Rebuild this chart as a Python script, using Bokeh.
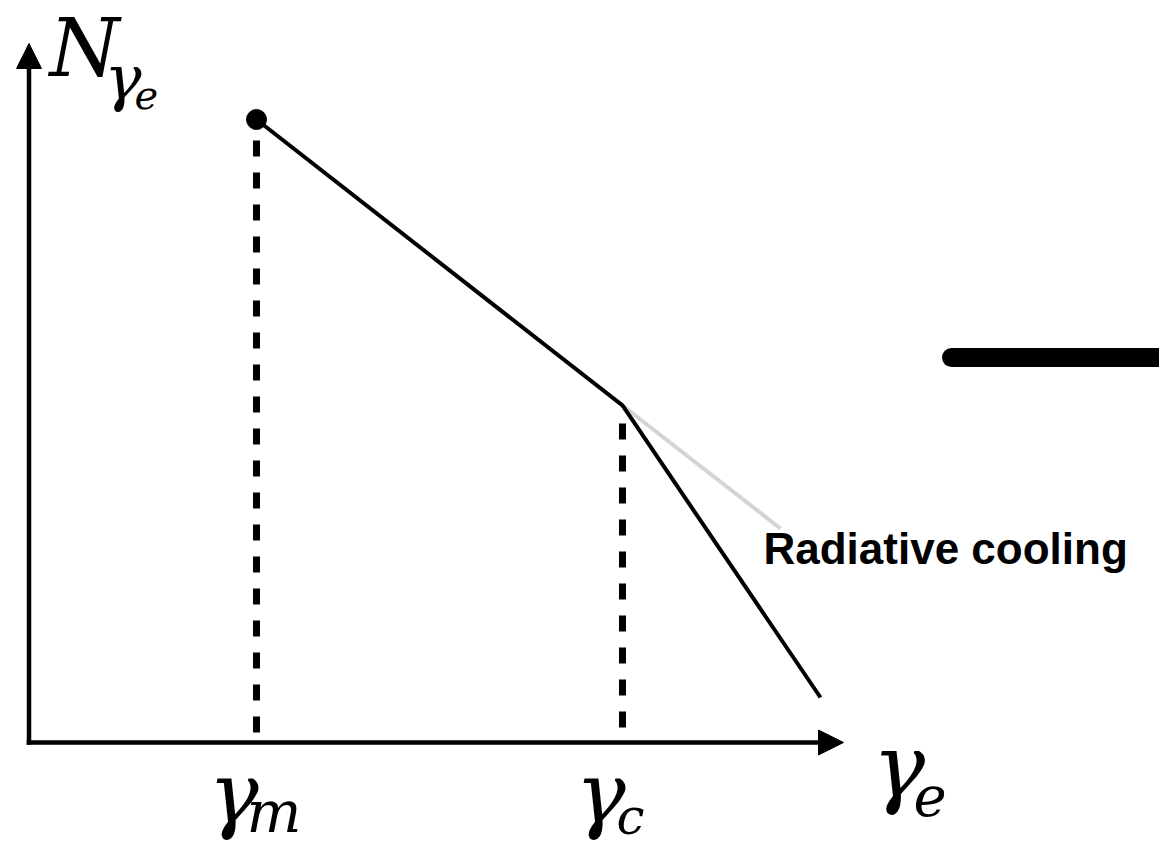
from bokeh.plotting import figure
from bokeh.models import Range1d, Arrow, NormalHead
from bokeh.core.properties import value
from bokeh.embed import file_html
from bokeh.resources import INLINE

# Schematic electron spectrum, drawn in canvas units (x to the right, y downward)
# Break points of the broken power law: injection peak at gamma_m, cooling break at gamma_c
spec_gamma = [256, 622, 820]
spec_n = [119, 405, 697]

# Uncooled continuation of the first power-law segment beyond gamma_c
ext_gamma = [622, 780]
ext_n = [405, 528]

# Marker on the low-energy end of the spectrum
peak_gamma = [256]
peak_n = [119]

# Dashed drop lines from the breaks to the gamma axis
drop_gamma = [256, 622]
drop_top = [140, 423]
drop_bottom = [732, 727]

# Axes: origin and arrow tips
origin = (28.5, 742)
x_tip = 843
y_tip = 43

# Brush stroke to the right of the diagram
stroke_x = [951, 1175]
stroke_y = [357, 357]

SERIF = value("DejaVu Serif")
MID = 0.35  # vertical centre of the em box above the baseline, in font sizes

p = figure(width=1159, height=846, output_backend="svg", toolbar_location=None,
           x_range=Range1d(0, 1159), y_range=Range1d(846, 0),
           min_border=0, outline_line_color=None, background_fill_color="white")
p.axis.visible = False
p.grid.visible = False

# Axes with arrow heads
p.add_layout(Arrow(x_start=origin[0] - 2.25, y_start=origin[1], x_end=x_tip, y_end=origin[1],
                   line_width=4.5, line_color="black",
                   end=NormalHead(size=25, fill_color="black", line_color="black", line_width=1)))
p.add_layout(Arrow(x_start=origin[0], y_start=origin[1] + 2.25, x_end=origin[0], y_end=y_tip,
                   line_width=4.5, line_color="black",
                   end=NormalHead(size=25, fill_color="black", line_color="black", line_width=1)))

# Drop lines
p.segment(x0=drop_gamma, y0=drop_top, x1=drop_gamma, y1=drop_bottom,
          line_color="black", line_width=7, line_dash="16 16", line_cap="butt")

# Uncooled extension (grey)
p.line(ext_gamma, ext_n, line_color="#d4d4d4", line_width=4)

# Spectrum
p.line(spec_gamma, spec_n, line_color="black", line_width=4, line_join="miter")
p.scatter(peak_gamma, peak_n, size=20, fill_color="black", line_color="black")

# Annotation
p.text(x=[763], y=[563 - MID * 44], text=["Radiative cooling"],
       text_font=value("Liberation Sans"),
       text_font_style="bold", text_font_size="44px", text_color="black",
       text_align="left", text_baseline="middle")

# Brush stroke
p.line(stroke_x, stroke_y, line_color="black", line_width=19, line_cap="round")

# Math labels: main glyphs and subscripts (x = left edge, y = baseline)
def label(x, y, s, size):
    p.text(x=[x], y=[y - MID * size], text=[s], text_font=SERIF,
           text_font_style="italic", text_font_size=f"{size}px", text_color="black",
           text_align="left", text_baseline="middle")

label(49, 76, "N", 80)
label(104, 99, "γ", 62)
label(134, 108, "e", 40)

label(872, 797, "γ", 88)
label(913, 815, "e", 56)

label(208, 822, "γ", 84)
label(246, 832, "m", 58)

label(575, 822, "γ", 84)
label(616, 834, "c", 50)

open("out.html", "w").write(file_html(p, INLINE))
